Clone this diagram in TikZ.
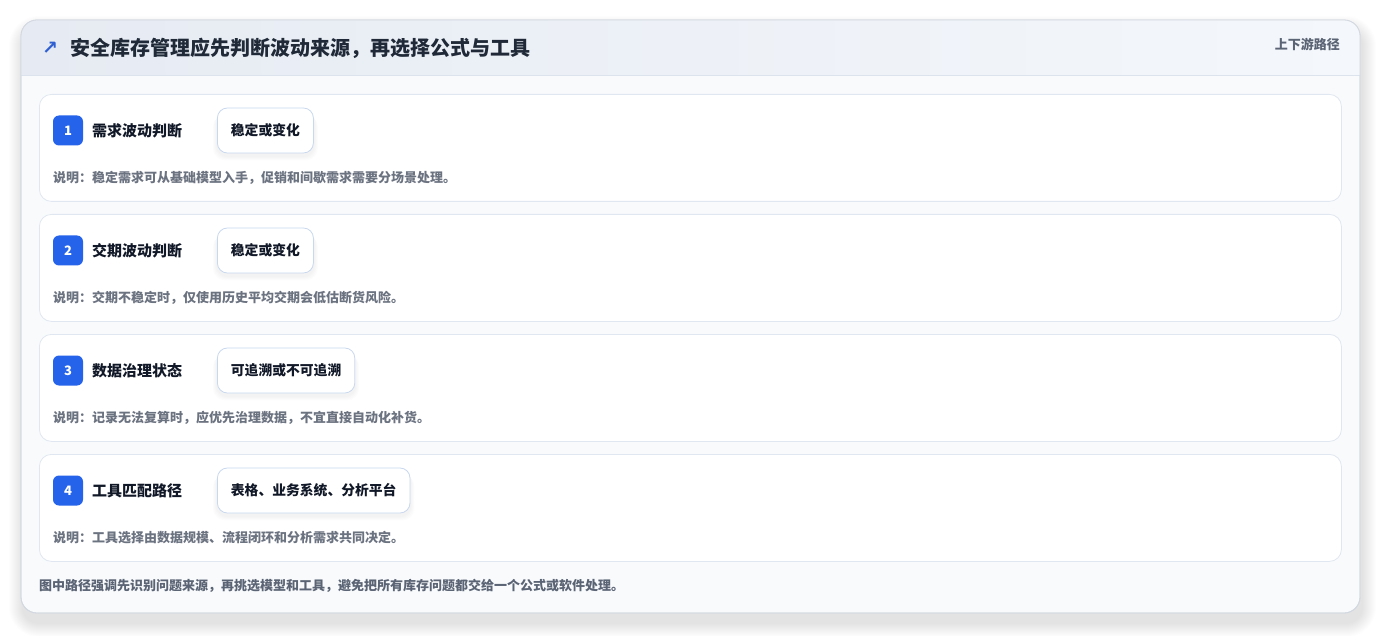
\documentclass[tikz,border=0pt]{standalone}
\usepackage{fontspec}
\setmainfont{Noto Sans CJK SC}
\newfontfamily\symfont{DejaVu Sans}
\definecolor{cardline}{HTML}{D3D8E0}
\definecolor{cardbg}{HTML}{F8FAFC}
\definecolor{hdrL}{HTML}{E6EBF3}
\definecolor{hdrR}{HTML}{F4F7FB}
\definecolor{hdrline}{HTML}{DDE3EC}
\definecolor{rowline}{HTML}{E1E7F0}
\definecolor{pillline}{HTML}{C9D8EE}
\definecolor{badgeblue}{HTML}{2563EB}
\definecolor{titletext}{HTML}{1F2937}
\definecolor{lbltext}{HTML}{111827}
\definecolor{desctext}{HTML}{6B7280}
\definecolor{foottext}{HTML}{5B6474}
\definecolor{iconblue}{HTML}{2F5FD0}
\tikzset{
  rowcard/.style={draw=rowline, fill=white, rounded corners=12pt, line width=0.8pt,
    minimum width=1302pt, minimum height=107pt, anchor=north west, inner sep=0pt},
  badge/.style={fill=badgeblue, rounded corners=6pt, minimum size=30pt, inner sep=0pt,
    text=white, font=\fontsize{13}{15}\selectfont\bfseries},
  lbl/.style={anchor=west, inner sep=0pt, text=lbltext, font=\fontsize{15}{17}\selectfont\bfseries},
  pill/.style={draw=pillline, fill=white, rounded corners=10pt, line width=0.8pt, anchor=west,
    minimum height=45pt, inner xsep=13.5pt, inner ysep=0pt, text=lbltext,
    font=\fontsize{13.8}{16}\selectfont\bfseries},
  pillshadow/.style={fill=black, opacity=0.012, rounded corners=12pt},
  desc/.style={anchor=west, inner sep=0pt, text=desctext, font=\fontsize{13}{15}\selectfont\bfseries},
}
\begin{document}
\begin{tikzpicture}[x=1pt,y=-1pt]
\useasboundingbox (0,0) rectangle (1381,636);
\fill[white] (0,0) rectangle (1381,636);
% card shadow
\foreach \i in {1,...,14} {
  \fill[black, opacity=0.006, rounded corners=16+\i] (21-\i+2, 20-\i+10) rectangle (1360+\i+2, 613+\i+10);
}
\draw[draw=cardline, fill=cardbg, rounded corners=16pt, line width=0.8pt] (21,20) rectangle (1360,613);
\begin{scope}
  \clip[rounded corners=16pt] (21,20) rectangle (1360,613);
  \shade[left color=hdrL, right color=hdrR] (21,20) rectangle (1360,75);
\end{scope}
\draw[hdrline, line width=0.8pt] (21,75) -- (1360,75);
\draw[draw=cardline, rounded corners=16pt, line width=0.8pt] (21,20) rectangle (1360,613);

% header
\node[inner sep=0pt, text=iconblue, font=\symfont\fontsize{19}{21}\selectfont\bfseries] (icon) at (50,48.5) {↗};
\node[anchor=west, inner sep=0pt, text=titletext, font=\fontsize{20}{24}\selectfont\bfseries] (title) at (70,48.5) {安全库存管理应先判断波动来源，再选择公式与工具};
\node[anchor=east, inner sep=0pt, text=foottext, font=\fontsize{13}{15}\selectfont\bfseries] (tag) at (1340,44) {上下游路径};

% rows
\foreach \n/\y/\lab/\val/\txt in {
  1/94/需求波动判断/稳定或变化/说明：稳定需求可从基础模型入手，促销和间歇需求需要分场景处理。,
  2/214/交期波动判断/稳定或变化/说明：交期不稳定时，仅使用历史平均交期会低估断货风险。,
  3/334/数据治理状态/可追溯或不可追溯/说明：记录无法复算时，应优先治理数据，不宜直接自动化补货。,
  4/454/工具匹配路径/表格、业务系统、分析平台/说明：工具选择由数据规模、流程闭环和分析需求共同决定。} {
  \node[rowcard] (r\n) at (39,\y) {};
  \node[badge] (b\n) at (68,\y+36.5) {\n};
  \node[lbl] (l\n) at (92,\y+37) {\lab};
  \node[pill, opacity=0] (q\n) at (217,\y+36.5) {\val};
  \foreach \k in {1,...,4} {
    \fill[pillshadow] ([xshift=-\k pt, yshift=-\k pt-3pt]q\n.north west) rectangle ([xshift=\k pt, yshift=-\k pt-3pt]q\n.south east);
  }
  \node[pill] (p\n) at (217,\y+36.5) {\val};
  \node[desc] (d\n) at (53,\y+84) {\txt};
}

\node[anchor=west, inner sep=0pt, text=foottext, font=\fontsize{13}{15}\selectfont\bfseries] (foot) at (39,586) {图中路径强调先识别问题来源，再挑选模型和工具，避免把所有库存问题都交给一个公式或软件处理。};
\end{tikzpicture}
\end{document}
